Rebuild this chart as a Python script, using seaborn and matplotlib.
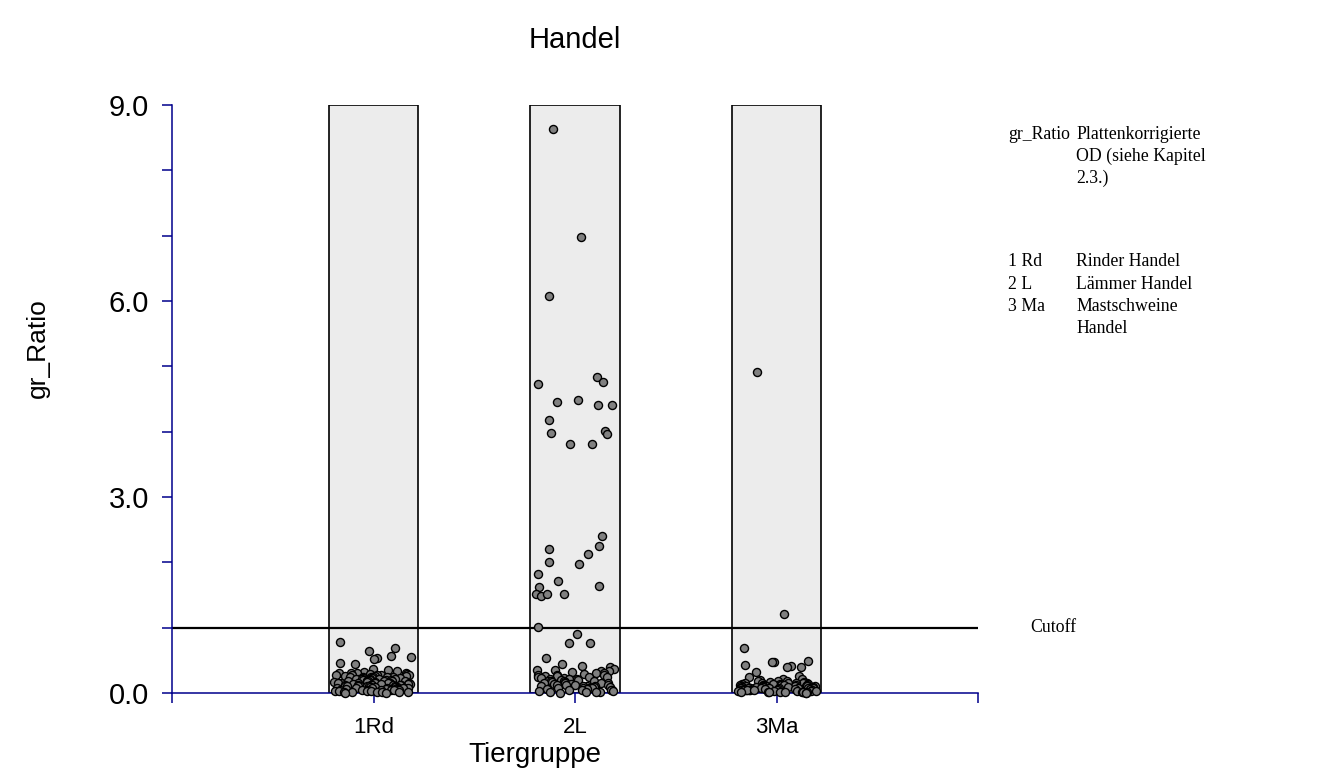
import numpy as np
import pandas as pd
import matplotlib
matplotlib.use("Agg")
import matplotlib.pyplot as plt
import seaborn as sns
from matplotlib.ticker import FixedLocator, MultipleLocator

# ---------------- data ----------------
categories = ["1Rd", "2L", "3Ma"]
range_top = [9.0, 9.0, 9.0]
cutoff = 1.0
y_ticks = [0.0, 3.0, 6.0, 9.0]
y_tick_labels = ["0.0", "3.0", "6.0", "9.0"]

rd_values = [0.78, 0.69, 0.64, 0.57, 0.55, 0.54, 0.52, 0.46, 0.44, 0.37, 0.35,
             0.33, 0.32, 0.31, 0.31, 0.30, 0.30, 0.29, 0.29, 0.28, 0.28, 0.28, 0.27,
             0.27, 0.26, 0.26, 0.26, 0.25, 0.25, 0.25, 0.24, 0.24, 0.24, 0.23, 0.23,
             0.23, 0.22, 0.22, 0.22, 0.21, 0.21, 0.21, 0.20, 0.20, 0.20, 0.20, 0.19,
             0.19, 0.19, 0.18, 0.18, 0.18, 0.18, 0.17, 0.17, 0.17, 0.16, 0.16, 0.16,
             0.16, 0.15, 0.15, 0.15, 0.15, 0.14, 0.14, 0.14, 0.14, 0.13, 0.13, 0.13,
             0.13, 0.12, 0.12, 0.12, 0.12, 0.11, 0.11, 0.11, 0.11, 0.10, 0.10, 0.10,
             0.10, 0.09, 0.09, 0.09, 0.09, 0.08, 0.08, 0.08, 0.08, 0.07, 0.07, 0.07,
             0.07, 0.06, 0.06, 0.06, 0.06, 0.05, 0.05, 0.05, 0.05, 0.04, 0.04, 0.04,
             0.04, 0.03, 0.03, 0.03, 0.03, 0.02, 0.02, 0.02, 0.01, 0.01, 0.01, 0.00,
             0.00]

l_values = [8.63, 6.98, 6.08, 4.84, 4.76, 4.73, 4.48, 4.41, 4.41, 4.45, 4.18,
            4.01, 3.96, 3.98, 3.81, 3.81, 2.40, 2.20, 2.13, 2.25, 1.97, 2.01, 1.82,
            1.71, 1.64, 1.62, 1.52, 1.52, 1.48, 1.52, 1.01,
            0.90, 0.77, 0.77, 0.54, 0.44, 0.41, 0.40, 0.36, 0.35, 0.35, 0.34, 0.33,
            0.32, 0.31, 0.30, 0.29, 0.28, 0.28, 0.27, 0.26, 0.26, 0.25, 0.24, 0.24,
            0.23, 0.23, 0.22, 0.21, 0.21, 0.20, 0.20, 0.19, 0.19, 0.18, 0.18, 0.17,
            0.17, 0.16, 0.16, 0.15, 0.15, 0.14, 0.14, 0.13, 0.13, 0.12, 0.12, 0.11,
            0.11, 0.10, 0.10, 0.09, 0.09, 0.08, 0.08, 0.07, 0.07, 0.06, 0.06, 0.05,
            0.05, 0.04, 0.04, 0.03, 0.03, 0.02, 0.02, 0.01, 0.01, 0.00]

ma_values = [4.91, 1.21, 0.69, 0.49, 0.47, 0.47, 0.43, 0.41, 0.40, 0.40, 0.32,
             0.26, 0.24, 0.22, 0.21, 0.20, 0.19, 0.18, 0.18, 0.17, 0.17, 0.16, 0.16,
             0.16, 0.15, 0.15, 0.15, 0.14, 0.14, 0.14, 0.14, 0.13, 0.13, 0.13, 0.13,
             0.12, 0.12, 0.12, 0.12, 0.11, 0.11, 0.11, 0.11, 0.10, 0.10, 0.10, 0.10,
             0.10, 0.09, 0.09, 0.09, 0.09, 0.09, 0.08, 0.08, 0.08, 0.08, 0.08, 0.07,
             0.07, 0.07, 0.07, 0.07, 0.06, 0.06, 0.06, 0.06, 0.06, 0.05, 0.05, 0.05,
             0.05, 0.05, 0.04, 0.04, 0.04, 0.04, 0.04, 0.03, 0.03, 0.03, 0.03, 0.03,
             0.02, 0.02, 0.02, 0.02, 0.01, 0.01, 0.01, 0.01, 0.00, 0.00]

legend_keys = ["gr_Ratio", "1 Rd", "2 L", "3 Ma"]
legend_texts = ["Plattenkorrigierte\nOD (siehe Kapitel\n2.3.)", "Rinder Handel",
                "Lämmer Handel", "Mastschweine\nHandel"]

# ---------------- figure ----------------
sns.set_theme(style="white")
plt.rcParams['font.family'] = ['Liberation Sans', 'DejaVu Sans']
plt.rcParams['text.color'] = 'black'
plt.rcParams['axes.labelcolor'] = 'black'
plt.rcParams['xtick.color'] = 'black'
plt.rcParams['ytick.color'] = 'black'

W, H = 1332, 778
fig = plt.figure(figsize=(W / 100, H / 100), dpi=100)
ax = fig.add_axes([172 / W, 85 / H, 806 / W, 588 / H])

box_df = pd.DataFrame({"group": categories, "top": range_top})
sns.barplot(data=box_df, x="group", y="top", order=categories, width=0.445,
            color="#ececec", saturation=1, edgecolor="black", linewidth=1.2,
            ax=ax, zorder=1)

ax.axhline(cutoff, color="black", lw=1.6, zorder=2)

groups = (["1Rd"] * len(rd_values) + ["2L"] * len(l_values) + ["3Ma"] * len(ma_values))
pts = pd.DataFrame({"group": groups, "value": rd_values + l_values + ma_values})
np.random.seed(7)
sns.stripplot(data=pts, x="group", y="value", order=categories, jitter=0.195,
              size=5.8, color="#808080", edgecolor="black", linewidth=1.0,
              ax=ax, zorder=3)
for c in ax.collections:
    c.set_clip_on(False)

ax.set_xlim(-1, 3)
ax.set_ylim(0, 9)
ax.set_xlabel("")
ax.set_ylabel("")

navy = "#00008b"
ax.xaxis.set_major_locator(FixedLocator([-1, 0, 1, 2, 3]))
ax.set_xticklabels([""] + categories + [""], fontsize=16)
ax.yaxis.set_major_locator(FixedLocator(y_ticks))
ax.set_yticklabels(y_tick_labels, fontsize=21)
ax.yaxis.set_minor_locator(MultipleLocator(1.0))

ax.tick_params(axis="both", which="both", direction="out", length=7.5,
               width=1.1, color=navy, labelcolor="black",
               bottom=True, left=True, top=False, right=False)
ax.tick_params(axis="x", which="minor", bottom=False)
ax.tick_params(axis="x", pad=10)
ax.tick_params(axis="y", pad=9)

for s in ["top", "right"]:
    ax.spines[s].set_visible(False)
for s in ["left", "bottom"]:
    ax.spines[s].set_color(navy)
    ax.spines[s].set_linewidth(1.1)
ax.grid(False)

fig.text(575 / W, 1 - 40 / H, "Handel", ha="center", va="center", fontsize=21)
fig.text(535 / W, 1 - 755 / H, "Tiergruppe", ha="center", va="center", fontsize=20)
fig.text(38 / W, 1 - 348 / H, "gr_Ratio", ha="center", va="center",
         rotation=90, fontsize=19)

serif = ['Liberation Serif', 'DejaVu Serif']
key_y = [135, 262, 285, 307]
for k, t, yy in zip(legend_keys, legend_texts, key_y):
    fig.text(1008 / W, 1 - (yy - 9) / H, k, ha="left", va="top",
             fontsize=12.8, family=serif, linespacing=1.36)
    fig.text(1076 / W, 1 - (yy - 9) / H, t, ha="left", va="top",
             fontsize=12.8, family=serif, linespacing=1.36)
fig.text(1030 / W, 1 - 627 / H, "Cutoff", ha="left", va="center",
         fontsize=12.8, family=serif)

fig.savefig("out.png", dpi=100)
